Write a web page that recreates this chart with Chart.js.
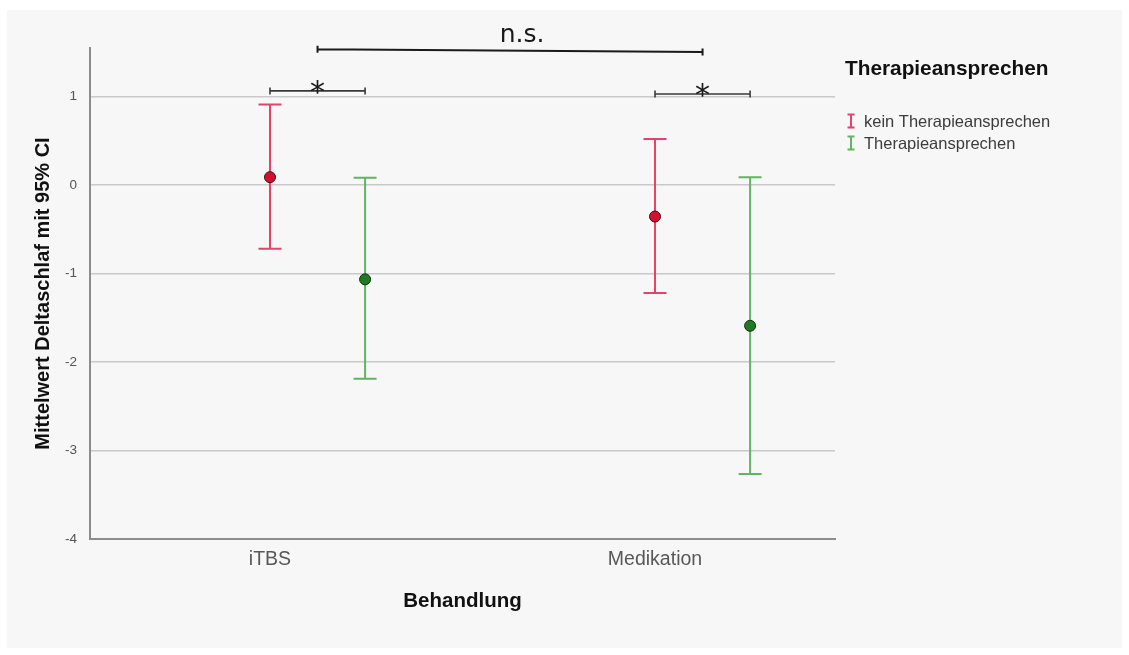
<!DOCTYPE html>
<html>
<head>
<meta charset="utf-8">
<script src="https://cdn.jsdelivr.net/npm/chart.js@4/dist/chart.umd.min.js"></script>
<style>
  html, body { margin: 0; padding: 0; background: #ffffff; }
  canvas { display: block; }
</style>
</head>
<body>
<canvas id="chart" width="1129" height="655"></canvas>
<script>
// Treatment groups on the x axis
const categories = ['iTBS', 'Medikation'];
// Response groups (one series each)
const groups = ['kein Therapieansprechen', 'Therapieansprechen'];

// Mean change in delta sleep with 95% confidence interval
const meanKein  = [0.09, -0.355];
const lowerKein = [-0.72, -1.22];
const upperKein = [0.91, 0.52];

const meanTher  = [-1.065, -1.59];
const lowerTher = [-2.19, -3.265];
const upperTher = [0.083, 0.09];

// Y axis tick values
const yTicks = [1, 0, -1, -2, -3, -4];

// Significance annotations: within iTBS, within Medikation, between treatments
const sigLabels = ['*', '*', 'n.s.'];

// ---- layout / style constants ----
const GROUP_SHIFT = 0.247;          // horizontal shift of the second series inside a cluster
const SERIES_STYLE = [
  { bar: '#e4436b', fill: '#d3112f', border: '#4a0a14' },
  { bar: '#62b362', fill: '#1f7a22', border: '#0f3510' }
];
const BRACKET_Y = [[1.065, 1.065], [1.03, 1.03], [1.535, 1.505]];

const series = [
  { mean: meanKein, lower: lowerKein, upper: upperKein },
  { mean: meanTher, lower: lowerTher, upper: upperTher }
];

const datasets = series.map((s, g) => ({
  label: groups[g],
  data: s.mean.map((m, i) => ({ x: i + g * GROUP_SHIFT, y: m, lo: s.lower[i], hi: s.upper[i] })),
  pointRadius: 5.5,
  pointHoverRadius: 5.5,
  pointBackgroundColor: SERIES_STYLE[g].fill,
  pointBorderColor: SERIES_STYLE[g].border,
  pointBorderWidth: 1,
  showLine: false
}));

// Panel background
const panelPlugin = {
  id: 'panel',
  beforeDraw(chart) {
    const ctx = chart.ctx;
    ctx.save();
    ctx.fillStyle = '#f7f7f7';
    ctx.fillRect(7, 10, 1115, 638);
    ctx.restore();
  }
};

// Confidence interval whiskers with caps
const errorBarPlugin = {
  id: 'errorBars',
  beforeDatasetsDraw(chart) {
    const ctx = chart.ctx;
    const xs = chart.scales.x, ys = chart.scales.y;
    ctx.save();
    chart.data.datasets.forEach((ds, g) => {
      ctx.strokeStyle = SERIES_STYLE[g].bar;
      ctx.lineWidth = 2;
      ds.data.forEach(p => {
        const x = xs.getPixelForValue(p.x);
        const yl = ys.getPixelForValue(p.lo);
        const yh = ys.getPixelForValue(p.hi);
        const cap = 11.5;
        ctx.beginPath();
        ctx.moveTo(x, yh); ctx.lineTo(x, yl);
        ctx.moveTo(x - cap, yh); ctx.lineTo(x + cap, yh);
        ctx.moveTo(x - cap, yl); ctx.lineTo(x + cap, yl);
        ctx.stroke();
      });
    });
    ctx.restore();
  }
};

// Significance brackets and legend
const annotationPlugin = {
  id: 'annotations',
  afterDraw(chart) {
    const ctx = chart.ctx;
    const xs = chart.scales.x, ys = chart.scales.y;
    ctx.save();

    const spans = [
      [0, 0 + GROUP_SHIFT],
      [1, 1 + GROUP_SHIFT],
      [GROUP_SHIFT / 2, 1 + GROUP_SHIFT / 2]
    ];
    spans.forEach((sp, k) => {
      const x1 = xs.getPixelForValue(sp[0]);
      const x2 = xs.getPixelForValue(sp[1]);
      const y1 = ys.getPixelForValue(BRACKET_Y[k][0]);
      const y2 = ys.getPixelForValue(BRACKET_Y[k][1]);
      ctx.strokeStyle = k === 2 ? '#1a1a1a' : '#3a3a3a';
      ctx.lineWidth = k === 2 ? 2 : 1.6;
      ctx.beginPath();
      ctx.moveTo(x1, y1); ctx.lineTo(x2, y2);
      ctx.moveTo(x1, y1 - 3.5); ctx.lineTo(x1, y1 + 3.5);
      ctx.moveTo(x2, y2 - 3.5); ctx.lineTo(x2, y2 + 3.5);
      ctx.stroke();
      ctx.fillStyle = '#1a1a1a';
      ctx.textAlign = 'center';
      ctx.textBaseline = 'alphabetic';
      const xm = (x1 + x2) / 2;
      if (sigLabels[k] === '*') {
        ctx.font = '30px "DejaVu Sans"';
        ctx.fillText(sigLabels[k], xm, (y1 + y2) / 2 + 11);
      } else {
        ctx.font = '25px "DejaVu Sans"';
        ctx.fillText(sigLabels[k], xm + 12, (y1 + y2) / 2 - 9);
      }
    });

    // Legend
    ctx.textAlign = 'left';
    ctx.textBaseline = 'alphabetic';
    ctx.fillStyle = '#111111';
    ctx.font = 'bold 20.8px "Liberation Sans", Arial, sans-serif';
    ctx.fillText('Therapieansprechen', 845, 75);
    ctx.font = '16.5px "Liberation Sans", Arial, sans-serif';
    chart.data.datasets.forEach((ds, g) => {
      const cy = 121 + g * 22;
      ctx.strokeStyle = SERIES_STYLE[g].bar;
      ctx.lineWidth = 2;
      ctx.beginPath();
      ctx.moveTo(851, cy - 6.5); ctx.lineTo(851, cy + 6.5);
      ctx.moveTo(847.5, cy - 6.5); ctx.lineTo(854.5, cy - 6.5);
      ctx.moveTo(847.5, cy + 6.5); ctx.lineTo(854.5, cy + 6.5);
      ctx.stroke();
      ctx.fillStyle = '#3c3c3c';
      ctx.textBaseline = 'middle';
      ctx.fillText(ds.label, 864, cy + 1);
    });
    ctx.restore();
  }
};

new Chart(document.getElementById('chart'), {
  type: 'scatter',
  data: { datasets },
  plugins: [panelPlugin, errorBarPlugin, annotationPlugin],
  options: {
    responsive: false,
    devicePixelRatio: 1,
    animation: false,
    events: [],
    layout: { padding: { top: 48, right: 294, left: 0, bottom: 0 } },
    plugins: { legend: { display: false }, tooltip: { enabled: false } },
    scales: {
      x: {
        type: 'linear',
        min: -0.4675,
        max: 1.4675,
        afterBuildTicks(scale) { scale.ticks = categories.map((c, i) => ({ value: i })); },
        afterFit(scale) { scale.height = 116; },
        ticks: {
          callback: v => categories[Math.round(v)],
          color: '#585858',
          font: { family: '"Liberation Sans", Arial, sans-serif', size: 19.5 },
          padding: 9,
          maxRotation: 0
        },
        grid: { display: false, drawTicks: false },
        border: { display: true, color: '#8c8c8c', width: 2 },
        title: {
          display: true,
          text: 'Behandlung',
          color: '#111111',
          font: { family: '"Liberation Sans", Arial, sans-serif', size: 20.5, weight: 'bold' },
          padding: { top: 0, bottom: 41 }
        }
      },
      y: {
        min: -4,
        max: 1.55,
        afterBuildTicks(scale) { scale.ticks = yTicks.map(v => ({ value: v })); },
        afterFit(scale) { scale.width = 90; },
        ticks: {
          color: '#555555',
          font: { family: '"Liberation Sans", Arial, sans-serif', size: 13.5 },
          padding: 13
        },
        grid: { color: '#c9c9c9', lineWidth: 1.5, drawTicks: false },
        border: { display: true, color: '#8c8c8c', width: 2 },
        title: {
          display: true,
          text: 'Mittelwert Deltaschlaf mit 95% CI',
          color: '#111111',
          font: { family: '"Liberation Sans", Arial, sans-serif', size: 20, weight: 'bold' },
          padding: { top: 31, bottom: 0 }
        }
      }
    }
  }
});
</script>
</body>
</html>
